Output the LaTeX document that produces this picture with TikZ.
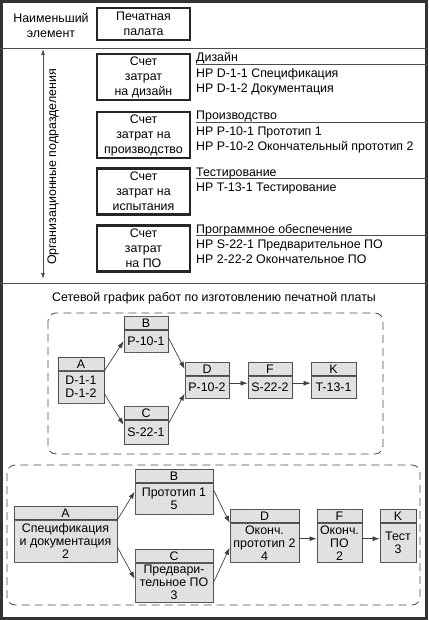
\documentclass[tikz,border=0pt]{standalone}
\usepackage{fontspec}
\setmainfont{Liberation Sans}
\usetikzlibrary{arrows.meta,positioning,calc,patterns}

\begin{document}
\begin{tikzpicture}[
  x=1pt, y=-1pt,
  font=\fontsize{12.4}{15}\selectfont,
  frame options/.style = {draw=black!80,line width=3pt,inner sep=0pt},
  rule options/.style = {draw=black!70,line width=.8pt},
  account/.style = {draw=black!85,line width=2.4pt,minimum width=93pt,minimum height=46pt,align=center,inner sep=1pt},
  group/.style = {draw=black!70,line width=.8pt,dash pattern=on 8pt off 5pt,rounded corners=8pt},
  task options/.style = {draw=black!70,fill=black!11,postaction={pattern=dots,pattern color=black!22},
    line width=.8pt,inner sep=0pt,align=center,font=\fontsize{12.4}{13}\selectfont},
  head/.style = {task options,minimum width=#1pt,minimum height=13pt},
  body/.style = {task options,minimum width=#1pt},
  link/.style = {draw=black!75,line width=.7pt,-{Latex[length=7pt,width=5pt]}},
  ]
  \useasboundingbox (0,0) rectangle (428,620);
  \node[frame options,minimum width=425pt,minimum height=617pt] (frame) at (214,310) {};
  \draw[rule options] (frame.west |- 0,48) -- (frame.east |- 0,48);
  \draw[rule options] (frame.west |- 0,283) -- (frame.east |- 0,283);

  % structure of the board
  \node[align=center] (smallest) at (51,25) {Наименьший\\элемент};
  \node[account,minimum height=32pt] (board) at (143.5,24) {Печатная\\палата};
  \foreach \id/\y/\txt/\cat/\items in {
      design/77/{Счет\\затрат\\на дизайн}/Дизайн/{HP D-1-1 Спецификация\\HP D-1-2 Документация},
      production/135/{Счет\\затрат на\\производство}/Производство/{HP P-10-1 Прототип 1\\HP P-10-2 Окончательный прототип 2},
      testing/191.5/{Счет\\затрат на\\испытания}/Тестирование/{HP T-13-1 Тестирование},
      software/248.5/{Счет\\затрат\\на ПО}/Программное обеспечение/{HP S-22-1 Предварительное ПО\\HP 2-22-2 Окончательное ПО}} {
    \node[account] (\id) at (143.5,\y) {\txt};
    \node[anchor=base west,inner sep=0pt] (\id cat) at (196,\y-15) {\cat};
    \coordinate (\id rule) at ([yshift=-2pt]\id cat.base west);
    \draw[rule options] (\id rule) -- (\id rule -| frame.east);
    \node[anchor=north west,inner sep=0pt,align=left] (\id items) at (196,\y-8.5) {\items};
  }
  \coordinate (units top) at (43,49);
  \coordinate (units bottom) at (43,279);
  \draw[rule options,{Latex[length=6pt,width=4pt]}-{Latex[length=6pt,width=4pt]}] (units bottom) -- (units top);
  \node[rotate=90] (units) at (53,167) {Организационные подразделения};

  % network of tasks
  \node (title) at (214,298) {Сетевой график работ по изготовлению печатной платы};
  \draw[group] (48,313) rectangle (383,454);
  \foreach \id/\lbl/\x/\y/\w/\h/\txt in {
      A1/A/81/357/46/32/{D-1-1\\D-1-2},
      B1/B/146/316/44/22/P-10-1,
      C1/C/146/406/44/24/S-22-1,
      D1/D/207/362/44/22/P-10-2,
      F1/F/270/362/44/22/S-22-2,
      K1/K/333.5/362/45/22/T-13-1} {
    \node[head=\w,anchor=north] (\id h) at (\x,\y) {\lbl};
    \node[body=\w,minimum height=\h pt,below=0pt of \id h] (\id) {\txt};
  }
  \draw[link] (A1.north east) -- (B1.west);
  \draw[link] ([yshift=-23pt]A1.north east) -- ([yshift=-5pt]C1.north west);
  \draw[link] ([yshift=-8pt]B1.north east) -- (D1h.west);
  \draw[link] ([yshift=-4pt]C1.north east) -- ([yshift=5pt]D1.south west);
  \draw[link] ([yshift=4pt]D1.east) -- ([yshift=4pt]F1.west);
  \draw[link] ([yshift=4pt]F1.east) -- ([yshift=4pt]K1.west);

  \draw[group] (7,465) rectangle (420,605);
  \foreach \id/\lbl/\x/\y/\w/\h/\txt in {
      A2/A/65.5/506/103/42/{Спецификация\\и документация\\2},
      B2/B/174/469/78/31/{Прототип 1\\5},
      C2/C/174/549/78/39/{Предвари-\\тельное ПО\\3},
      D2/D/264.5/509/69/39/{Оконч.\\прототип 2\\4},
      F2/F/339.5/509/45/39/{Оконч.\\ПО\\2},
      K2/K/398/509/36/39/{Тест\\3}} {
    \node[head=\w,anchor=north] (\id h) at (\x,\y) {\lbl};
    \node[body=\w,minimum height=\h pt,below=0pt of \id h] (\id) {\txt};
  }
  \draw[link] (A2.north east) -- ([yshift=7pt]B2.west);
  \draw[link] ([yshift=-6pt]A2.east) -- ([yshift=4pt]C2.west);
  \draw[link] ([yshift=9pt]B2.east) -- (D2.north west);
  \draw[link] (C2.east) -- ([yshift=-5pt]D2.west);
  \draw[link] ([yshift=4pt]D2.east) -- ([yshift=4pt]F2.west);
  \draw[link] ([yshift=4pt]F2.east) -- ([yshift=4pt]K2.west);
\end{tikzpicture}
\end{document}
